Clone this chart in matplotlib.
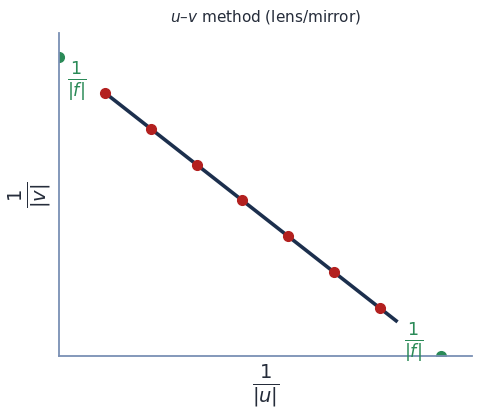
import matplotlib
matplotlib.use("Agg")
import matplotlib.pyplot as plt
import numpy as np

# 1/|u| and 1/|v| readings (arbitrary units)
inv_u = [1.2, 2.4, 3.6, 4.8, 6.0, 7.2, 8.4]
inv_v = [8.8, 7.6, 6.4, 5.2, 4.0, 2.8, 1.6]
inv_f = 10.0

line_c = "#1c2f4d"
pt_c = "#b3201f"
grn = "#2a8a57"
spine_c = "#7a90b4"
txt_c = "#252c3a"

fig = plt.figure(figsize=(4.79, 4.16), dpi=100)
ax = fig.add_axes([0.123, 0.144, 0.862, 0.777])

# best-fit line, extended a little past the last point
k, b = np.polyfit(inv_u, inv_v, 1)
xs = np.array([min(inv_u), max(inv_u) * 1.05])
ax.plot(xs, k * xs + b, color=line_c, lw=2.6, zorder=2)
ax.plot(inv_u, inv_v, "o", color=pt_c, ms=7, zorder=3)

# intercepts at 1/|f| (half hidden by the axes edge)
ax.plot([0, inv_f], [inv_f, 0], "o", color=grn, ms=7, zorder=1, clip_on=True)
ax.text(0.47, 9.15, r"$\frac{1}{|f|}$", color=grn, fontsize=18, ha="center", va="center")
ax.text(9.3, 0.43, r"$\frac{1}{|f|}$", color=grn, fontsize=18, ha="center", va="center")

ax.set_xlim(0, 10.8)
ax.set_ylim(0, 10.8)
ax.set_xticks([])
ax.set_yticks([])
for s in ["top", "right"]:
    ax.spines[s].set_visible(False)
for s in ["left", "bottom"]:
    ax.spines[s].set_color(spine_c)
    ax.spines[s].set_linewidth(1.3)

ax.set_xlabel(r"$\frac{1}{|u|}$", fontsize=20, color=txt_c, labelpad=4)
ax.set_ylabel(r"$\frac{1}{|v|}$", fontsize=20, color=txt_c, labelpad=4)
ax.set_title(r"$u$–$v$ method (lens/mirror)", fontsize=11, color=txt_c, pad=8)

fig.savefig("out.png", dpi=100)
